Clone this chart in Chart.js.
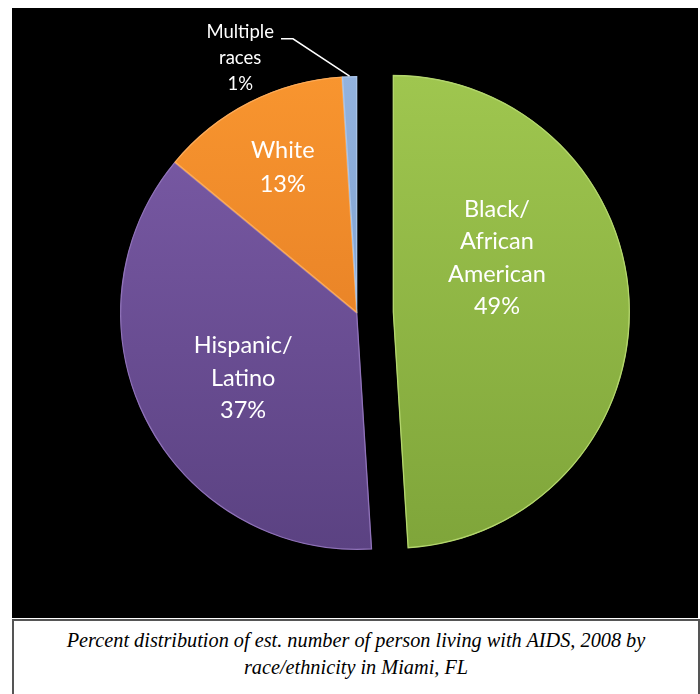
<!DOCTYPE html>
<html lang="en">
<head>
<meta charset="UTF-8">
<title>Persons living with AIDS, Miami 2008</title>
<script src="https://cdn.jsdelivr.net/npm/chart.js"></script>
<style>
    body {
        margin: 0;
        background: #fff;
        width: 700px;
        height: 694px;
        position: relative;
        overflow: hidden;
    }
    #plot {
        position: absolute;
        left: 12px;
        top: 8px;
        width: 686px;
        height: 610px;
        background: #000;
    }
    #caption {
        position: absolute;
        left: 12px;
        top: 619px;
        width: 688px;
        height: 80px;
        box-sizing: border-box;
        border: 2px solid #555;
        border-bottom: none;
        padding-top: 6px;
        font-family: "Liberation Serif", "Times New Roman", serif;
        font-style: italic;
        font-size: 20.3px;
        line-height: 27px;
        text-align: center;
        color: #000;
    }
</style>
</head>
<body>
<div id="plot"><canvas id="pie" width="686" height="610"></canvas></div>
<div id="caption">Percent distribution of est. number of person living with AIDS, 2008 by<br>race/ethnicity in Miami, FL</div>

<script>
    // data
    const categories = [["Black/", "African", "American"], ["Hispanic/", "Latino"], ["White"], ["Multiple", "races"]];
    const percentages = [49, 37, 13, 1];

    // colours (top, bottom of gradient)
    const topColors = ["#9fc64f", "#7c5ca8", "#f8952f", "#93b3de"];
    const bottomColors = ["#7fa53a", "#5b4282", "#dc7420", "#6f93c6"];
    const edgeColors = ["#b3d56d", "#8f72b8", "#fbab5a", "#a9c4e8"];

    // label placement relative to each slice centre: fraction of radius, angle clockwise from 12 o'clock
    const labelSpots = [
        { r: 0.494, deg: 62.6, size: 23.5, lh: 32.5 },
        { r: 0.553, deg: 240.3, size: 23.5, lh: 32.5 },
        { r: 0.69, deg: 333, size: 23.5, lh: 34 },
        { r: 1.184, deg: 335.4, size: 18.5, lh: 26, leader: true }
    ];
    const explode = [36, 0, 0, 0];

    function sliceFill(c) {
        const i = c.dataIndex;
        const area = c.chart.chartArea;
        if (!area) return topColors[i];
        const cy = (area.top + area.bottom) / 2;
        const g = c.chart.ctx.createLinearGradient(0, cy - 237, 0, cy + 237);
        g.addColorStop(0, topColors[i]);
        g.addColorStop(1, bottomColors[i]);
        return g;
    }

    const explodePlugin = {
        id: "explode",
        afterUpdate(chart) {
            const meta = chart.getDatasetMeta(0);
            meta.data.forEach((arc, i) => {
                if (!explode[i]) return;
                const mid = (arc.startAngle + arc.endAngle) / 2;
                arc.x += Math.cos(mid) * explode[i];
                arc.y += Math.sin(mid) * explode[i];
            });
        }
    };

    const labelPlugin = {
        id: "sliceLabels",
        afterDatasetsDraw(chart) {
            const ctx = chart.ctx;
            const meta = chart.getDatasetMeta(0);
            meta.data.forEach((arc, i) => {
                const spot = labelSpots[i];
                const a = spot.deg * Math.PI / 180 - Math.PI / 2;
                const lx = arc.x + Math.cos(a) * spot.r * arc.outerRadius;
                const ly = arc.y + Math.sin(a) * spot.r * arc.outerRadius;
                const lines = [...categories[i], percentages[i] + "%"];
                ctx.save();
                ctx.fillStyle = "#fff";
                ctx.font = spot.size + "px Lato, 'Open Sans', sans-serif";
                ctx.textAlign = "center";
                ctx.textBaseline = "middle";
                const y0 = ly - (lines.length - 1) * spot.lh / 2;
                lines.forEach((t, k) => ctx.fillText(t, lx, y0 + k * spot.lh));
                if (spot.leader) {
                    const w = ctx.measureText(lines[0]).width;
                    const sx = lx + w / 2 + 7;
                    const sy = y0 + 7;
                    const mid = (arc.startAngle + arc.endAngle) / 2;
                    const ex = arc.x + Math.cos(mid) * arc.outerRadius;
                    const ey = arc.y + Math.sin(mid) * arc.outerRadius;
                    ctx.strokeStyle = "#fff";
                    ctx.lineWidth = 1.5;
                    ctx.beginPath();
                    ctx.moveTo(sx, sy);
                    ctx.lineTo(sx + 12, sy);
                    ctx.lineTo(ex, ey);
                    ctx.stroke();
                }
                ctx.restore();
            });
        }
    };

    new Chart(document.getElementById("pie"), {
        type: "pie",
        data: {
            labels: categories,
            datasets: [{
                data: percentages,
                backgroundColor: sliceFill,
                borderColor: edgeColors,
                borderWidth: 1,
                borderAlign: "inner"
            }]
        },
        options: {
            responsive: false,
            animation: false,
            radius: 237,
            layout: { padding: { left: 4 } },
            plugins: {
                legend: { display: false },
                tooltip: { enabled: false }
            }
        },
        plugins: [explodePlugin, labelPlugin]
    });
</script>
</body>
</html>
